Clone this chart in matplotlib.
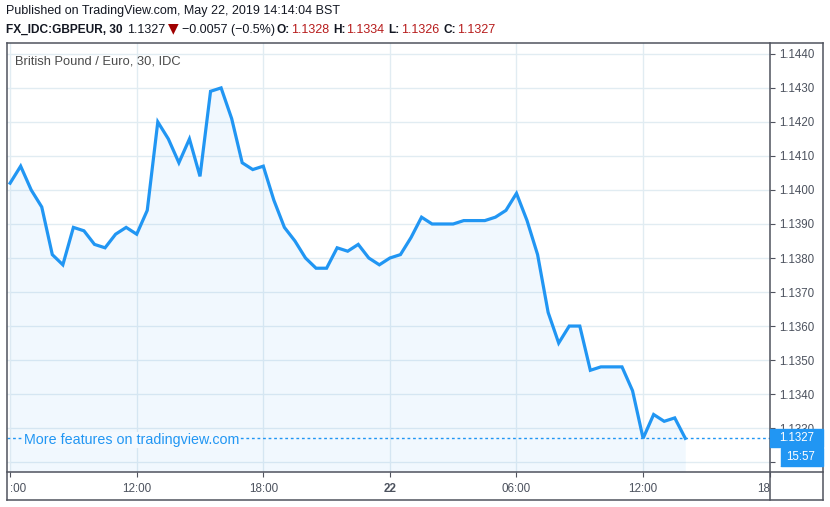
import matplotlib
matplotlib.use("Agg")
import matplotlib.pyplot as plt
from matplotlib.lines import Line2D
from matplotlib.patches import Rectangle
from matplotlib.transforms import blended_transform_factory

# --------------
# Data (30 min closes, 21 May 06:00 -> 22 May 14:00)
# --------------
close = [1.1402, 1.1407, 1.1400, 1.1395, 1.1381, 1.1378, 1.1389, 1.1388,
         1.1384, 1.1383, 1.1387, 1.1389, 1.1387, 1.1394, 1.1420, 1.1415,
         1.1408, 1.1415, 1.1404, 1.1429, 1.1430, 1.1421, 1.1408, 1.1406,
         1.1407, 1.1397, 1.1389, 1.1385, 1.1380, 1.1377, 1.1377, 1.1383,
         1.1382, 1.1384, 1.1380, 1.1378, 1.1380, 1.1381, 1.1386, 1.1392,
         1.1390, 1.1390, 1.1390, 1.1391, 1.1391, 1.1391, 1.1392, 1.1394,
         1.1399, 1.1391, 1.1381, 1.1364, 1.1355, 1.1360, 1.1360, 1.1347,
         1.1348, 1.1348, 1.1348, 1.1341, 1.1327, 1.1334, 1.1332, 1.1333,
         1.1327]
bars = list(range(len(close)))
time_ticks = [0, 12, 24, 36, 48, 60, 72]
time_labels = [":00", "12:00", "18:00", "22", "06:00", "12:00", "18"]
price_ticks = [1.1320, 1.1330, 1.1340, 1.1350, 1.1360, 1.1370, 1.1380,
               1.1390, 1.1400, 1.1410, 1.1420, 1.1430, 1.1440]
last_price = close[-1]

# --------------
# Colours
# --------------
BLUE = "#2196f3"
GRID = "#e1ecf2"
FRAME = "#50535e"
TEXT = "#4c525e"

W, H = 830, 507
plt.rcParams["font.family"] = ["Liberation Sans", "DejaVu Sans"]

fig = plt.figure(figsize=(W / 100, H / 100), dpi=100)

def px(x, y):
    # pixel (from top-left) -> figure fraction
    return x / W, 1 - y / H

ax = fig.add_axes([7 / W, (H - 472) / H, (770 - 7) / W, (472 - 43) / H])
ax.set_xlim(-0.294, 72.03)
ax.set_ylim(1.13171, 1.14432)

ax.plot(bars, close, color=BLUE, lw=2.3, solid_joinstyle="miter", zorder=3)
ax.fill_between(bars, close, 1.13171, color=BLUE, alpha=0.06, lw=0, zorder=1)
ax.axhline(last_price, color=BLUE, lw=1, ls=(0, (2, 2)), zorder=2)

# grid
ax.set_xticks(time_ticks)
ax.set_yticks(price_ticks)
ax.grid(True, color=GRID, lw=1)
ax.set_axisbelow(True)
for s in ax.spines.values():
    s.set_visible(False)

ax.yaxis.tick_right()
ax.set_yticklabels([f"{p:.4f}" for p in price_ticks])
ax.tick_params(axis="y", direction="out", length=3.6, width=0.8, color=FRAME,
               labelcolor=TEXT, labelsize=8.3, pad=3)
ax.set_xticklabels(time_labels)
ax.tick_params(axis="x", direction="out", length=3.6, width=0.8, color=FRAME,
               labelcolor=TEXT, labelsize=8.4, pad=4)
xl = ax.get_xticklabels()
xl[0].set_ha("left")
xl[-1].set_ha("right")
xl[3].set_fontweight("bold")

# --------------
# Frame lines
# --------------
def fline(x0, y0, x1, y1):
    a, b = px(x0, y0)
    c, d = px(x1, y1)
    fig.add_artist(Line2D([a, c], [b, d], color=FRAME, lw=1.1,
                          transform=fig.transFigure))

fline(7, 43, 823, 43)
fline(7, 500, 823, 500)
fline(7, 43, 7, 500)
fline(823, 43, 823, 500)
fline(770, 43, 770, 500)
fline(7, 472, 823, 472)

# --------------
# Price / countdown labels
# --------------
tr = blended_transform_factory(fig.transFigure, ax.transData)
hh = 9 / 34 * 0.001
fig.add_artist(Rectangle((770 / W, last_price - hh), 53 / W, 2 * hh,
                         color=BLUE, transform=tr, zorder=5))
fig.add_artist(Rectangle((781 / W, last_price - hh - 19 / 34 * 0.001), 42 / W,
                         2 * hh, color=BLUE, transform=tr, zorder=5))
fig.text(797 / W, last_price, f"{last_price:.4f}", transform=tr, color="white",
         fontsize=8.3, ha="center", va="center", zorder=6)
fig.text(801 / W, last_price - 19 / 34 * 0.001, "15:57", transform=tr,
         color="white", fontsize=8.3, ha="center", va="center", zorder=6)

# --------------
# Texts
# --------------
fig.text(*px(15, 61), "British Pound / Euro, 30, IDC", color="#4a4a4a",
         fontsize=9.3, va="center", ha="left")
fig.text(*px(24, 440), "More features on tradingview.com", color=BLUE,
         fontsize=10.3, va="center", ha="left",
         bbox=dict(boxstyle="square,pad=0.05", fc="#f4f9fe", ec="none"))

hdr = dict(fontsize=9.0, va="center", ha="left", color="#131722")
fig.text(*px(6, 11), "Published on TradingView.com, May 22, 2019 14:14:04 BST", **hdr)

# second header line: pieces laid out one after another
pieces = [("FX_IDC:GBPEUR, 30", "bold", "#131722", 4),
          ("1.1327", "normal", "#131722", 3),
          ("\u25bc", "normal", "#a00000", 3),
          ("\u22120.0057 (\u22120.5%)", "normal", "#131722", 2),
          ("O:", "bold", "#131722", 1),
          ("1.1328", "normal", "#b71c1c", 4),
          ("H:", "bold", "#131722", 1),
          ("1.1334", "normal", "#b71c1c", 4),
          ("L:", "bold", "#131722", 1),
          ("1.1326", "normal", "#b71c1c", 4),
          ("C:", "bold", "#131722", 1),
          ("1.1327", "normal", "#b71c1c", 0)]
renderer = fig.canvas.get_renderer()
xpos = 6
for txt, weight, col, gap in pieces:
    if txt == "\u25bc":
        t = fig.text(*px(xpos, 28), txt, fontsize=10, color=col, va="center",
                     ha="left", family=["DejaVu Sans"])
    else:
        size = 8.6 if weight == "bold" else 9.0
        t = fig.text(*px(xpos, 30), txt, fontsize=size, fontweight=weight,
                     color=col, va="center", ha="left")
    xpos += t.get_window_extent(renderer).width + gap

plt.savefig("out.png", dpi=100)
plt.close()
